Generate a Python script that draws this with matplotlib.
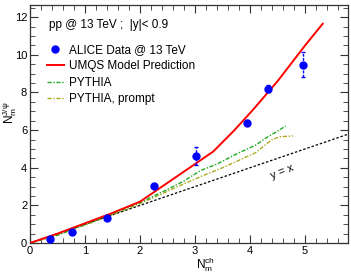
import matplotlib
matplotlib.use("Agg")
import matplotlib.pyplot as plt
import numpy as np
from matplotlib.lines import Line2D
from matplotlib.ticker import MultipleLocator

plt.rcParams["font.family"] = ["Liberation Sans", "DejaVu Sans"]
plt.rcParams["mathtext.fontset"] = "custom"
plt.rcParams["mathtext.rm"] = "Liberation Sans"
plt.rcParams["mathtext.it"] = "Liberation Sans"

# ALICE data
data_x = [0.36, 0.76, 1.40, 2.26, 3.02, 3.94, 4.32, 4.96]
data_y = [0.20, 0.58, 1.35, 3.03, 4.63, 6.40, 8.20, 9.47]
data_err = [0.05, 0.08, 0.10, 0.12, 0.47, 0.15, 0.20, 0.67]

# UMQS model
umqs_x = [0, 0.5, 1.0, 1.5, 2.0, 2.5, 3.0, 3.33, 3.7, 4.05, 4.5, 5.0, 5.32]
umqs_y = [0, 0.5, 1.05, 1.6, 2.2, 3.2, 4.2, 4.86, 5.95, 7.07, 8.6, 10.5, 11.65]

# PYTHIA
pythia_x = [0, 0.5, 1.0, 1.5, 2.0, 2.5, 2.8, 3.1, 3.4, 3.8, 4.1, 4.3, 4.5, 4.65]
pythia_y = [0, 0.42, 0.98, 1.55, 2.15, 2.85, 3.3, 3.85, 4.2, 4.8, 5.2, 5.6, 5.95, 6.22]

# PYTHIA prompt
prompt_x = [0, 0.5, 1.0, 1.5, 2.0, 2.5, 2.8, 3.2, 3.5, 3.8, 4.1, 4.4, 4.55, 4.78]
prompt_y = [0, 0.42, 0.96, 1.5, 2.1, 2.75, 3.15, 3.65, 4.0, 4.4, 4.8, 5.5, 5.65, 5.69]

fig = plt.figure(figsize=(3.51, 2.74), dpi=100)
ax = fig.add_axes([0.0855, 0.113, 0.906, 0.869])

dashdot = (0, (3, 1.2, 1, 1.2))
xx = np.array([0, 5.8])
ax.plot(xx, xx, color="black", linestyle=(0, (2, 1.5)), linewidth=0.9, zorder=1)
ax.plot(prompt_x, prompt_y, color="#aaaa22", linestyle=dashdot, linewidth=1.0,
        zorder=2)
ax.plot(pythia_x, pythia_y, color="#22aa22", linestyle=dashdot, linewidth=1.0,
        zorder=3)
ax.plot(umqs_x, umqs_y, color="red", linewidth=1.4, zorder=4)
eb = ax.errorbar(data_x, data_y, yerr=data_err, fmt="o", color="blue",
                 markersize=5, elinewidth=1, capsize=1.5, ls="none", zorder=5)
eb[-1][0].set_linestyle((0, (2, 1)))

ax.text(4.58, 3.78, "y = x", rotation=22, fontsize=8, ha="center",
        va="center")
ax.text(0.06, 0.916, "pp @ 13 TeV ;  |y|< 0.9", transform=ax.transAxes,
        fontsize=8.5, ha="left", va="center")

handles = [
    Line2D([], [], color="blue", marker="o", markersize=5, ls="none"),
    Line2D([], [], color="red", linewidth=1.4),
    Line2D([], [], color="#22aa22", linestyle=dashdot, linewidth=1.0),
    Line2D([], [], color="#aaaa22", linestyle=dashdot, linewidth=1.0),
]
labels = ["ALICE Data @ 13 TeV", "UMQS Model Prediction", "PYTHIA",
          "PYTHIA, prompt"]
ax.legend(handles, labels, loc="upper left", bbox_to_anchor=(0.052, 0.835),
          frameon=False, fontsize=8.5, handlelength=1.5, handletextpad=0.4,
          labelspacing=0.36, borderpad=0, borderaxespad=0)

ax.set_xlim(0, 5.78)
ax.set_ylim(0, 12.65)
ax.xaxis.set_major_locator(MultipleLocator(1))
ax.xaxis.set_minor_locator(MultipleLocator(0.2))
ax.yaxis.set_major_locator(MultipleLocator(2))
ax.yaxis.set_minor_locator(MultipleLocator(0.5))
ax.tick_params(which="both", direction="in", top=True, right=True,
               labelsize=8, pad=2, color="#333333")
ax.tick_params(which="major", length=6)
ax.tick_params(which="minor", length=3.5)
for s in ax.spines.values():
    s.set_color("#333333")
    s.set_linewidth(0.9)

fig.text(205 / 351, 1 - 265 / 274, r"$\mathrm{N_m^{ch}}$", fontsize=8.5,
         ha="center", va="center")
fig.text(10 / 351, 1 - 113 / 274, r"$\mathrm{N_m^{J/\psi}}$", fontsize=8.5,
         ha="center", va="center", rotation=90)

fig.savefig("out.png", dpi=100)
